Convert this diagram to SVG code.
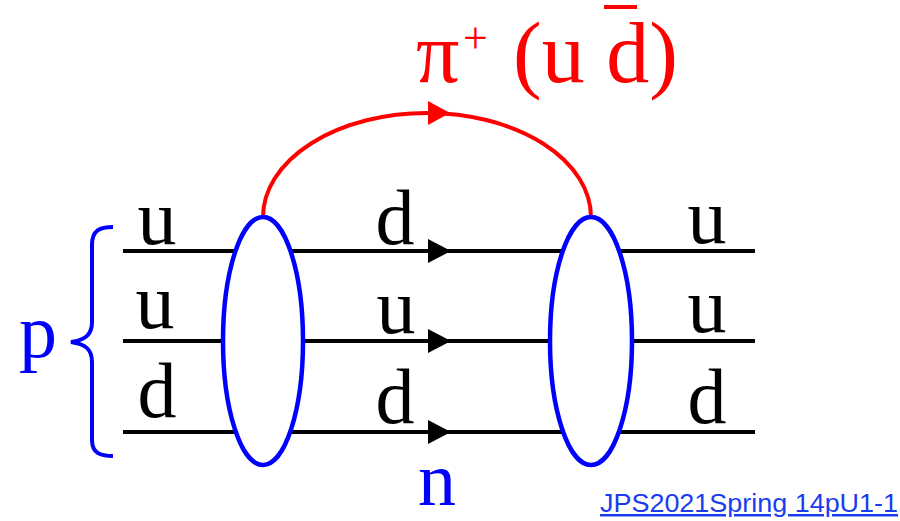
<svg xmlns="http://www.w3.org/2000/svg" width="900" height="521" viewBox="0 0 900 521">
<defs>
<style>
.q{font-family:"Liberation Serif","Times New Roman",serif;font-size:78px;fill:#000;text-anchor:middle}
.line{stroke:#000;stroke-width:4;fill:none}
.ell{stroke:#0000ff;stroke-width:4.5;fill:#fff}
.arr{fill:#000}
</style>
</defs>
<rect width="900" height="521" fill="#fff"/>
<g id="connectors">
<line class="line" x1="123" y1="251" x2="755" y2="251"/>
<line class="line" x1="123" y1="341" x2="755" y2="341"/>
<line class="line" x1="123" y1="432" x2="755" y2="432"/>
<polygon class="arr" points="428,239 451,251 428,263"/>
<polygon class="arr" points="428,329 451,341 428,353"/>
<polygon class="arr" points="428,420 451,432 428,444"/>
<path id="pion" d="M263,217 A164,104 0 0 1 591,217" stroke="#ff0000" stroke-width="4" fill="none"/>
<polygon points="428,101 450,113 428,125" fill="#ff0000"/>
</g>
<g id="vertex-left"><ellipse class="ell" cx="263" cy="341" rx="40" ry="124"/></g>
<g id="vertex-right"><ellipse class="ell" cx="591" cy="341" rx="41" ry="124"/></g>
<g id="proton">
<path d="M113,227 C100,227 92,230 92,245 L92,322 C92,335 85,340 71,342 C85,344 92,349 92,362 L92,440 C92,453 100,456 113,456" stroke="#0000ff" stroke-width="4" fill="none"/>
<text x="38" y="357" font-family="Liberation Serif, serif" font-size="76" fill="#0000ff" text-anchor="middle">p</text>
</g>
<g id="labels-left">
<text class="q" x="157" y="244">u</text>
<text class="q" x="155" y="328">u</text>
<text class="q" x="157" y="417">d</text>
</g>
<g id="labels-mid">
<text class="q" x="395" y="244">d</text>
<text class="q" x="396" y="333">u</text>
<text class="q" x="395" y="423">d</text>
</g>
<g id="labels-right">
<text class="q" x="707" y="243">u</text>
<text class="q" x="707" y="332">u</text>
<text class="q" x="707" y="423">d</text>
</g>
<g id="neutron">
<text x="437" y="505" font-family="Liberation Serif, serif" font-size="76" fill="#0000ff" text-anchor="middle">n</text>
</g>
<g id="pion-label" font-family="Liberation Serif, serif" fill="#ff0000">
<text x="416" y="82" font-size="86">π</text>
<text x="463" y="53" font-size="44">+</text>
<text x="513" y="82" font-size="86">(u d)</text>
<line x1="604" y1="7" x2="637" y2="7" stroke="#ff0000" stroke-width="4"/>
</g>
<g id="ref">
<text x="600" y="512" font-family="Liberation Sans, Arial, sans-serif" font-size="25" fill="#1a3cf0" textLength="298" lengthAdjust="spacingAndGlyphs" text-decoration="underline">JPS2021Spring 14pU1-1</text>
</g>
</svg>
